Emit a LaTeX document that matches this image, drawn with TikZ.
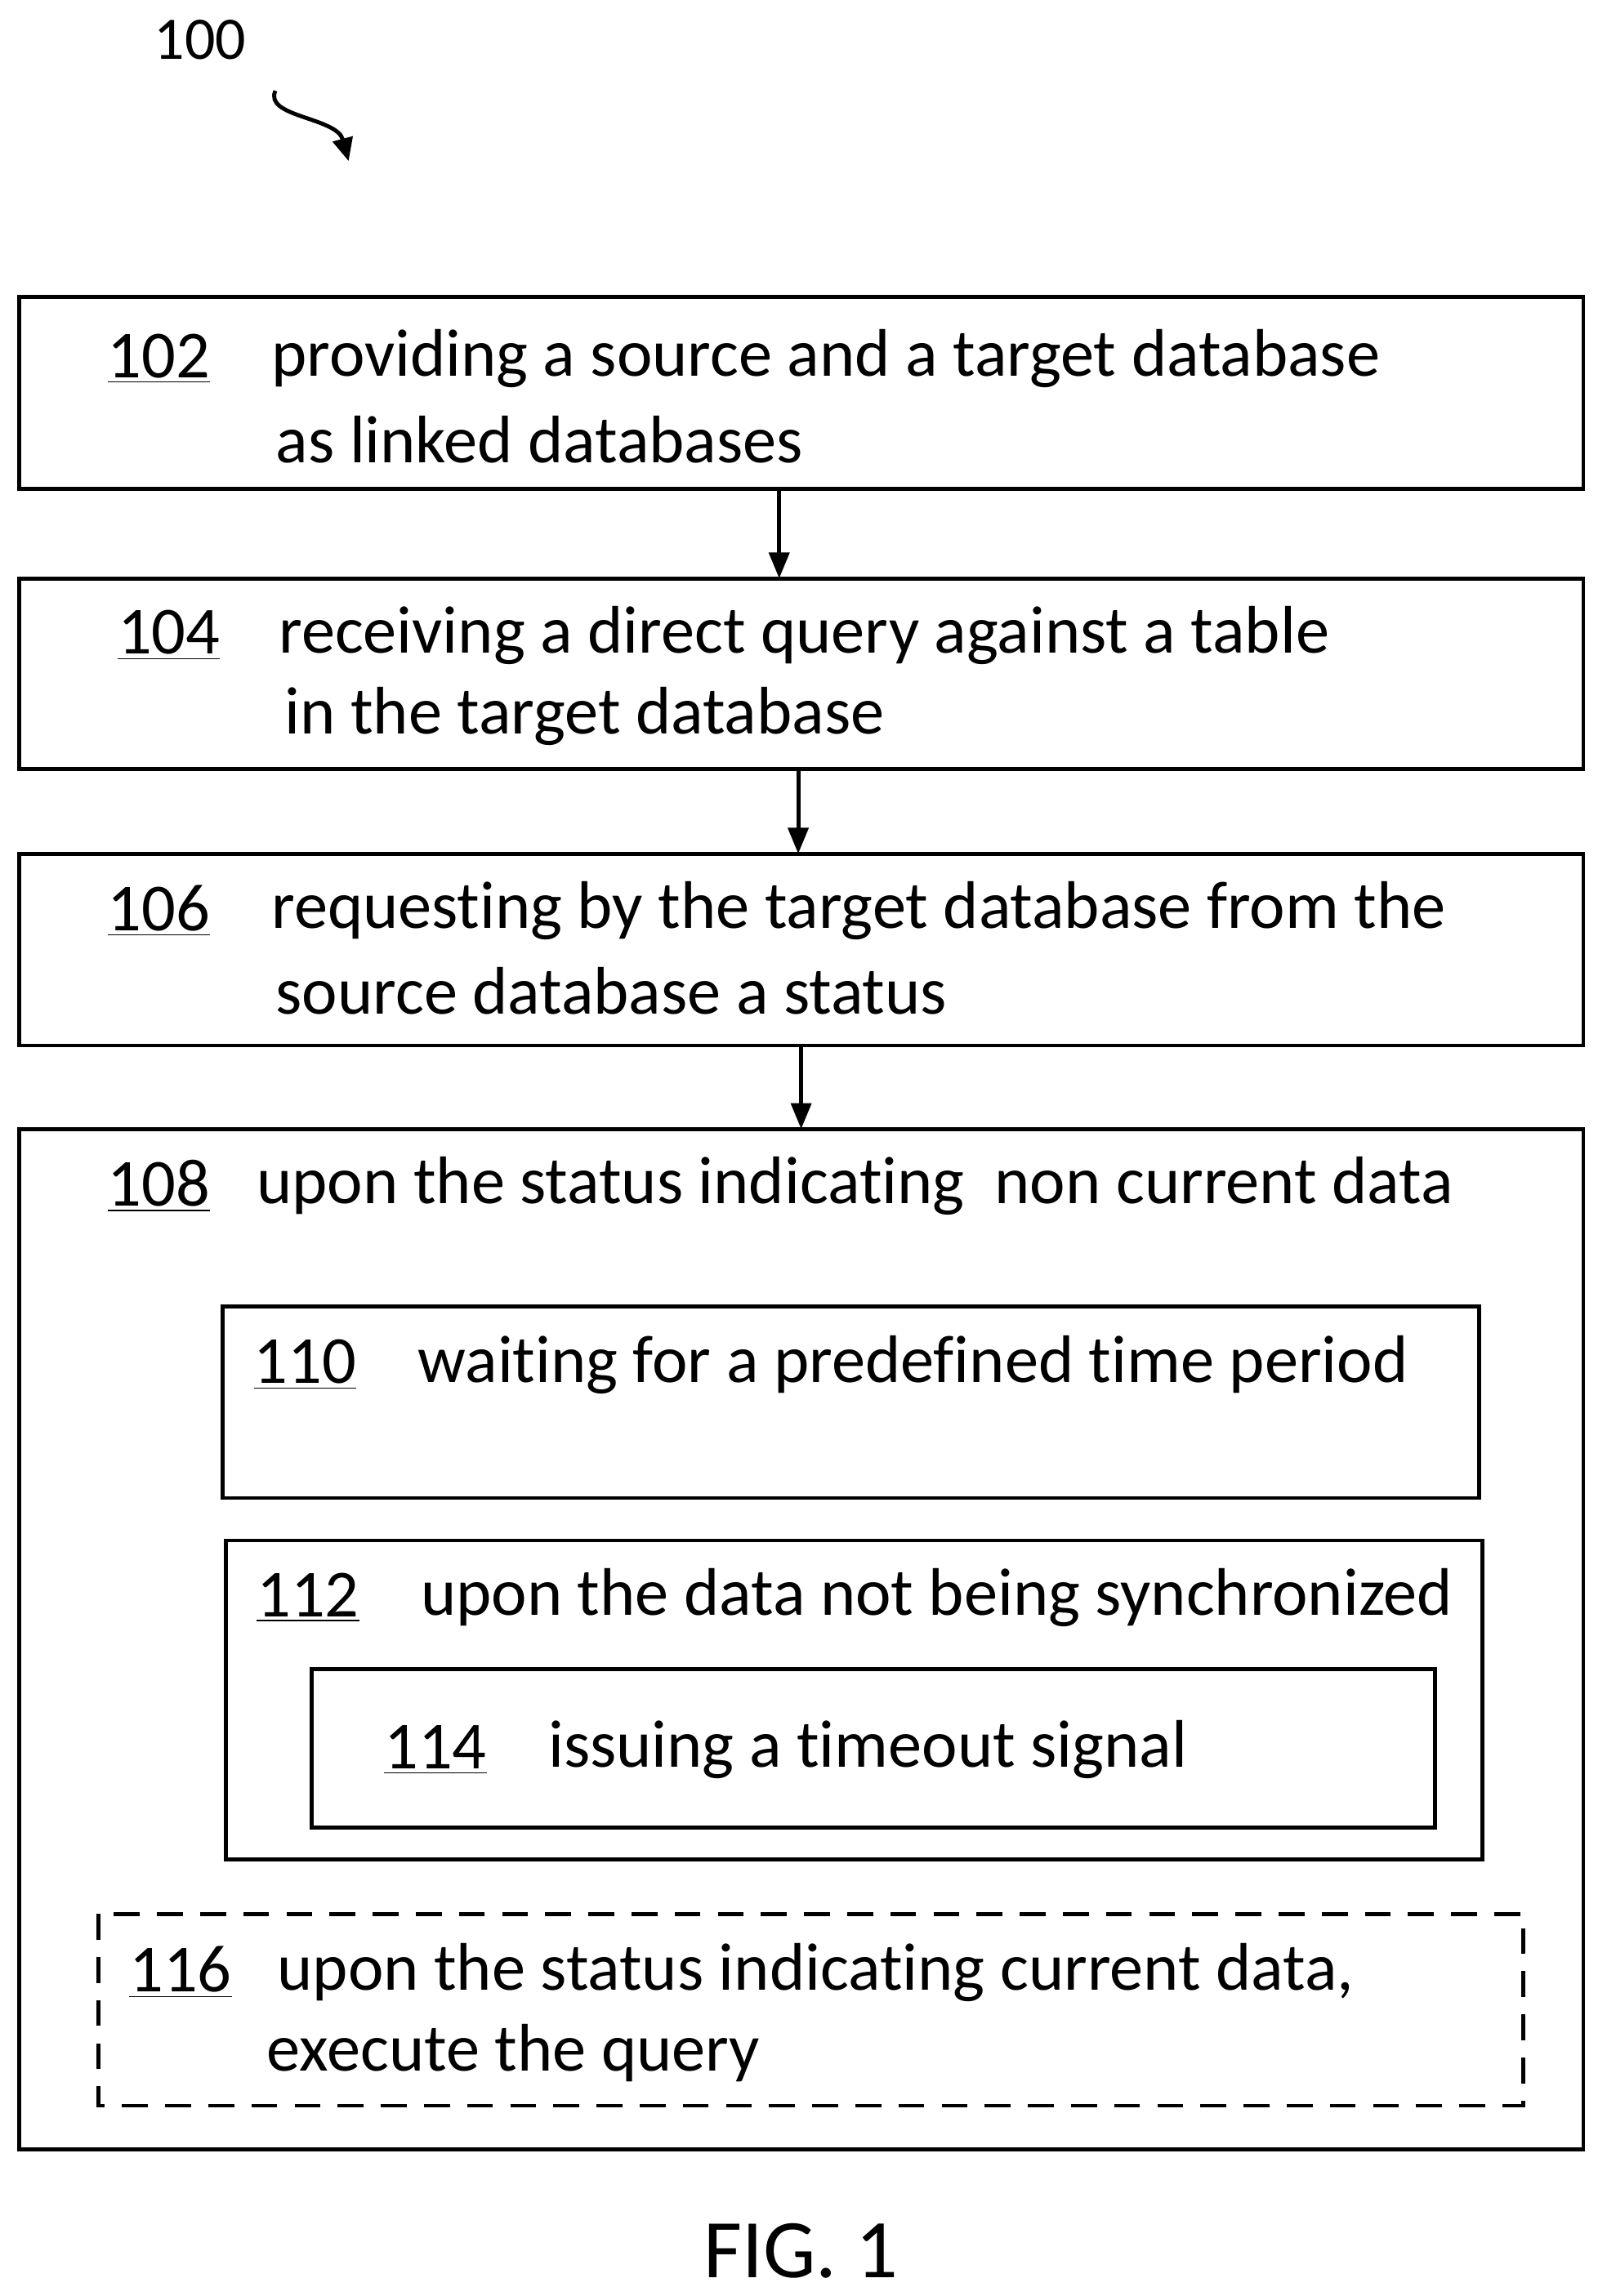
\documentclass[tikz,border=0pt]{standalone}
\usepackage{fontspec}
\setmainfont[Ligatures={NoCommon}]{Carlito}
\usetikzlibrary{arrows.meta}
\begin{document}
\begin{tikzpicture}[x=0.0179cm,y=-0.0179cm,
  box/.style={draw,line width=1.4pt},
  dbox/.style={draw,line width=1.4pt,dash pattern=on 9pt off 6pt},
  txt/.style={anchor=west,font=\fontsize{23.4}{28}\selectfont,inner sep=0pt},
  arr/.style={-{Stealth[length=9pt,width=7pt,inset=0pt]},line width=1.4pt,shorten >=0pt}]
\useasboundingbox (0,0) rectangle (1097,1568);
\draw[box] (13,203) rectangle (1081,334);
\coordinate (t102) at (532,334);
\coordinate (s104) at (532,395);
\draw[box] (13,395) rectangle (1081,525);
\coordinate (t104) at (545,525);
\coordinate (s106) at (545,583);
\draw[box] (13,583) rectangle (1081,714);
\coordinate (t106) at (547,714);
\coordinate (s108) at (547,771);
\draw[box] (13,771) rectangle (1081,1468);
\draw[box] (152,892) rectangle (1010,1023);
\draw[box] (154,1052) rectangle (1012,1270);
\draw[box] (213,1140) rectangle (980,1248);
\draw[dbox] (67,1307) rectangle (1040,1438);
\draw[arr] (t102) -- (s104);
\draw[arr] (t104) -- (s106);
\draw[arr] (t106) -- (s108);
\node[txt] (n102) at (73,245) {\underline{102}};
\node[txt] (l102a) at (185,245) {providing a source and a target database};
\node[txt] (l102b) at (188,300) {as linked databases};
\node[txt] (n104) at (80,434) {\underline{104}};
\node[txt] (l104a) at (190,434) {receiving a direct query against a table};
\node[txt] (l104b) at (194,489) {in the target database};
\node[txt] (n106) at (73,622) {\underline{106}};
\node[txt] (l106a) at (185,622) {requesting by the target database from the};
\node[txt] (l106b) at (188,677) {source database a status};
\node[txt] (n108) at (73,810) {\underline{108}};
\node[txt] (l108) at (175,810) {upon the status indicating\ \ non current data};
\node[txt] (n110) at (173,932) {\underline{110}};
\node[txt] (l110) at (285,932) {waiting for a predefined time period};
\node[txt] (n112) at (175,1091) {\underline{112}};
\node[txt] (l112) at (287,1091) {upon the data not being synchronized};
\node[txt] (n114) at (262,1195) {\underline{114}};
\node[txt] (l114) at (374,1195) {issuing a timeout signal};
\node[txt] (n116) at (88,1347) {\underline{116}};
\node[txt] (l116a) at (189,1347) {upon the status indicating current data,};
\node[txt] (l116b) at (182,1402) {execute the query};
\node[txt,font=\fontsize{21}{24}\selectfont] (n100) at (105,27) {100};
\node[font=\fontsize{29}{32}\selectfont,inner sep=0pt] (fig) at (547,1537) {FIG. 1};
\coordinate (c0) at (188,62);
\coordinate (c1) at (238,110);
\draw[line width=1.4pt,-{Stealth[length=8pt,width=7pt,inset=0pt]}] (c0) .. controls (180,80) and (230,80) .. (c1);
\end{tikzpicture}
\end{document}
